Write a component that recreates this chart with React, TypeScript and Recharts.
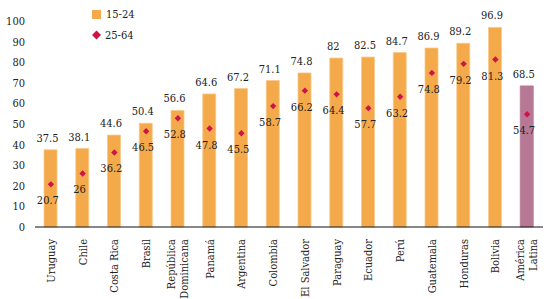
import React from "react"
import { Bar, Cell, ComposedChart, LabelList, Line, XAxis, YAxis } from "recharts"

// values
const countries = [
  "Uruguay",
  "Chile",
  "Costa Rica",
  "Brasil",
  "República\nDominicana",
  "Panamá",
  "Argentina",
  "Colombia",
  "El Salvador",
  "Paraguay",
  "Ecuador",
  "Perú",
  "Guatemala",
  "Honduras",
  "Bolivia",
  "América\nLatina",
]
const youth = [37.5, 38.1, 44.6, 50.4, 56.6, 64.6, 67.2, 71.1, 74.8, 82, 82.5, 84.7, 86.9, 89.2, 96.9, 68.5]
const adults = [20.7, 26, 36.2, 46.5, 52.8, 47.8, 45.5, 58.7, 66.2, 64.4, 57.7, 63.2, 74.8, 79.2, 81.3, 54.7]
const yTicks = [0, 10, 20, 30, 40, 50, 60, 70, 80, 90, 100]

const data = countries.map((name, i) => ({ name, youth: youth[i], adults: adults[i] }))

const FONT = "DejaVu Serif Condensed, DejaVu Serif, serif"
const FS = 11
const txt = { fontFamily: FONT, fontSize: FS, fontStretch: "condensed" as const }
const ORANGE = "#F4AA4A"
const MAUVE = "#B77896"
const RED = "#CC1447"

const CountryTick = (props: any) => {
  const { x, y, payload } = props
  const lines = String(payload.value).split("\n")
  const offsets = lines.length > 1 ? [-3, 10] : [4]
  return (
    <g transform={`translate(${x},${y + 10})`}>
      {lines.map((line, i) => (
        <text key={i} x={0} y={offsets[i]} transform="rotate(-90)" textAnchor="end" style={txt} fill="#222">
          {line}
        </text>
      ))}
    </g>
  )
}

const BarValue = (props: any) => {
  const vb = props.viewBox || props
  const x = vb.x ?? props.x
  const y = vb.y ?? props.y
  const w = vb.width ?? props.width ?? 0
  return (
    <text x={x + w / 2 - 3} y={y - 8} textAnchor="middle" style={txt} fill="#222">
      {props.value}
    </text>
  )
}

const DotValue = (props: any) => {
  const vb = props.viewBox || props
  const x = vb.x ?? props.x
  const y = vb.y ?? props.y
  return (
    <text x={x - 3} y={y + 20} textAnchor="middle" style={txt} fill="#222">
      {props.value}
    </text>
  )
}

const Diamond = (props: any) => {
  const { cx, cy } = props
  if (cx == null || cy == null) return null
  const r = 3.2
  return <path d={`M${cx},${cy - r}L${cx + r},${cy}L${cx},${cy + r}L${cx - r},${cy}Z`} fill={RED} />
}

const LegendBox = () => (
  <svg width={80} height={45} style={{ position: "absolute", left: 91, top: 9 }}>
    <rect x={1} y={1} width={9} height={9} fill={ORANGE} />
    <text x={15} y={9} style={txt} fill="#222">
      15-24
    </text>
    <path d="M5.5,21.5L10,26L5.5,30.5L1,26Z" fill={RED} />
    <text x={14} y={29.5} style={txt} fill="#222">
      25-64
    </text>
  </svg>
)

export default function App() {
  return (
    <div style={{ position: "absolute", left: 0, top: 0, width: 547, height: 299, background: "#fff", fontFamily: FONT }}>
      <ComposedChart width={547} height={299} data={data} margin={{ top: 21, right: 4, bottom: 0, left: 0 }}>
        <XAxis
          dataKey="name"
          interval={0}
          tickLine={false}
          tickSize={0}
          axisLine={{ stroke: "#111", strokeWidth: 1 }}
          height={72}
          tick={<CountryTick />}
        />
        <YAxis
          domain={[0, 100]}
          ticks={yTicks}
          interval={0}
          width={35}
          axisLine={false}
          tickLine={false}
          tickSize={0}
          tickMargin={10}
          tick={{ ...txt, fill: "#222" }}
        />
        <Bar dataKey="youth" barSize={13} fill={ORANGE} stroke="#F8C98A" strokeWidth={0.8} isAnimationActive={false}>
          {data.map((d, i) => (
            <Cell key={`cell-${i}`} fill={i === data.length - 1 ? MAUVE : ORANGE} stroke={i === data.length - 1 ? MAUVE : "#F8C98A"} />
          ))}
          <LabelList dataKey="youth" content={<BarValue />} />
        </Bar>
        <Line
          dataKey="adults"
          stroke="none"
          strokeWidth={0}
          dot={<Diamond />}
          activeDot={false}
          isAnimationActive={false}
        >
          <LabelList dataKey="adults" content={<DotValue />} />
        </Line>
      </ComposedChart>
      <LegendBox />
    </div>
  )
}
